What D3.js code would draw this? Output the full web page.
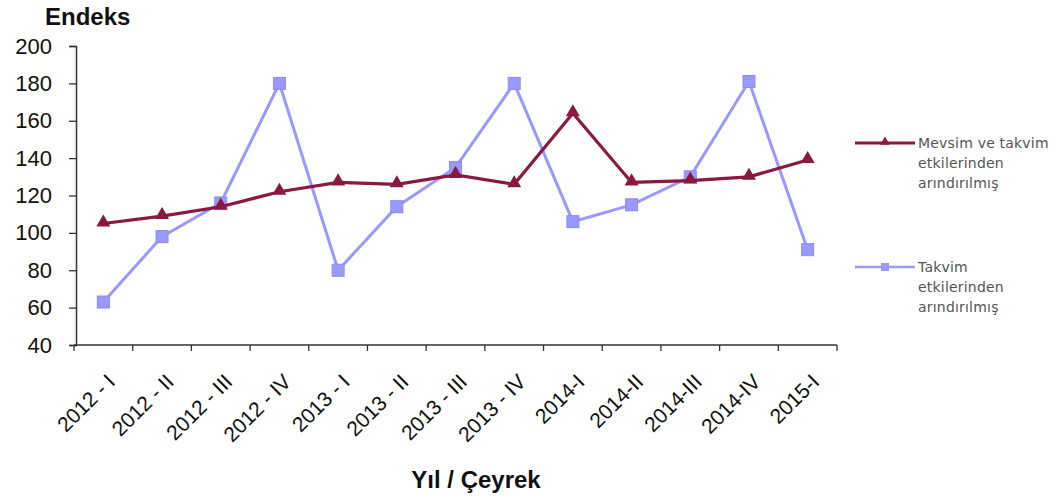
<!DOCTYPE html>
<html>
<head>
<meta charset="utf-8">
<script src="https://cdn.jsdelivr.net/npm/d3@7"></script>
<style>
  html, body { margin: 0; padding: 0; background: #fff; }
  svg { display: block; }
</style>
</head>
<body>
<svg id="chart" width="1059" height="498"></svg>
<script>
// Quarters shown on the x axis
const categories = ["2012 - I", "2012 - II", "2012 - III", "2012 - IV",
  "2013 - I", "2013 - II", "2013 - III", "2013 - IV",
  "2014-I", "2014-II", "2014-III", "2014-IV", "2015-I"];

// Seasonally and calendar adjusted index
const adjustedSeasonCalendar = [105, 109, 114, 122, 127, 126, 131, 126, 164, 127, 128, 130, 139];
// Calendar adjusted index
const adjustedCalendar = [63, 98, 116, 180, 80, 114, 135, 180, 106, 115, 130, 181, 91];

const yTicks = [40, 60, 80, 100, 120, 140, 160, 180, 200];

const seriesNames = [
  ["Mevsim ve takvim", "etkilerinden", "arındırılmış"],
  ["Takvim", "etkilerinden", "arındırılmış"]
];

const RED = "#8B1840";
const BLUE = "#9999FF";

const svg = d3.select("#chart");

const x = d3.scaleBand().domain(categories).range([74, 837]).padding(0);
const y = d3.scaleLinear().domain([40, 200]).range([345, 46]);

// y axis
const yAxis = svg.append("g")
  .attr("transform", "translate(76,0)")
  .call(d3.axisLeft(y).tickValues(yTicks).tickSize(7).tickPadding(17).tickFormat(d3.format("d")));
yAxis.select(".domain").attr("stroke", "#333").attr("stroke-width", 1.5);
yAxis.selectAll(".tick line").attr("stroke", "#333").attr("stroke-width", 1.3);
yAxis.selectAll(".tick text")
  .attr("fill", "#111")
  .style("font-family", "'Liberation Sans', Arial, sans-serif")
  .style("font-size", "22px");

// x axis: ticks at band boundaries
const xAxisG = svg.append("g").attr("transform", "translate(0,345)");
xAxisG.append("line")
  .attr("x1", x.range()[0]).attr("x2", x.range()[1])
  .attr("stroke", "#333").attr("stroke-width", 1.5);
const bounds = categories.map(c => x(c)).concat([x.range()[1]]);
xAxisG.selectAll("line.tk").data(bounds).enter().append("line")
  .attr("class", "tk")
  .attr("x1", d => d).attr("x2", d => d)
  .attr("y1", 0).attr("y2", 6)
  .attr("stroke", "#333").attr("stroke-width", 1.3);
xAxisG.selectAll("text").data(categories).enter().append("text")
  .attr("text-anchor", "end")
  .attr("transform", d => `translate(${x(d) + x.bandwidth() / 2 + 13},${38}) rotate(-45)`)
  .attr("fill", "#111")
  .style("font-family", "'Liberation Sans', Arial, sans-serif")
  .style("font-size", "21px")
  .text(d => d);

// axis titles
svg.append("text")
  .attr("x", 45).attr("y", 25)
  .style("font-family", "'Liberation Sans', Arial, sans-serif")
  .style("font-size", "24px").style("font-weight", "bold")
  .attr("fill", "#111")
  .text("Endeks");

svg.append("text")
  .attr("x", 476).attr("y", 488)
  .attr("text-anchor", "middle")
  .style("font-family", "'Liberation Sans', Arial, sans-serif")
  .style("font-size", "24px").style("font-weight", "bold")
  .attr("fill", "#111")
  .text("Yıl / Çeyrek");

const cx = i => x(categories[i]) + x.bandwidth() / 2;
const line = d3.line().x((d, i) => cx(i)).y(d => y(d));

// calendar adjusted series (blue, squares)
svg.append("path").datum(adjustedCalendar)
  .attr("d", line).attr("fill", "none")
  .attr("stroke", BLUE).attr("stroke-width", 3);
svg.selectAll("rect.mk").data(adjustedCalendar).enter().append("rect")
  .attr("class", "mk")
  .attr("x", (d, i) => cx(i) - 6).attr("y", d => y(d) - 6)
  .attr("width", 12).attr("height", 12)
  .attr("fill", BLUE).attr("stroke", "#8c8cf0").attr("stroke-width", 1);

// seasonally and calendar adjusted series (red, triangles)
svg.append("path").datum(adjustedSeasonCalendar)
  .attr("d", line).attr("fill", "none")
  .attr("stroke", RED).attr("stroke-width", 3.2);
const tri = d3.symbol().type(d3.symbolTriangle).size(85);
svg.selectAll("path.tri").data(adjustedSeasonCalendar).enter().append("path")
  .attr("class", "tri")
  .attr("d", tri)
  .attr("transform", (d, i) => `translate(${cx(i)},${y(d) - 1})`)
  .attr("fill", RED);

// legend
const legend = svg.append("g");
const legendRows = [
  { y: 143, color: RED, marker: "tri" },
  { y: 267, color: BLUE, marker: "sq" }
];
legendRows.forEach((r, k) => {
  legend.append("line")
    .attr("x1", 855).attr("x2", 915).attr("y1", r.y).attr("y2", r.y)
    .attr("stroke", r.color).attr("stroke-width", k === 0 ? 3 : 2.5);
  if (r.marker === "tri") {
    legend.append("path").attr("d", d3.symbol().type(d3.symbolTriangle).size(40))
      .attr("transform", `translate(885,${r.y - 1})`).attr("fill", r.color);
  } else {
    legend.append("rect").attr("x", 881).attr("y", r.y - 4).attr("width", 8).attr("height", 8)
      .attr("fill", r.color);
  }
  const t = legend.append("text")
    .attr("x", 918).attr("y", r.y + 5)
    .attr("fill", "#555")
    .style("font-family", "'DejaVu Sans', Verdana, sans-serif")
    .style("font-size", "14px")
    .style("letter-spacing", "0.2px");
  seriesNames[k].forEach((s, j) => {
    t.append("tspan").attr("x", 918).attr("dy", j === 0 ? 0 : 20).text(s);
  });
});
</script>
</body>
</html>
